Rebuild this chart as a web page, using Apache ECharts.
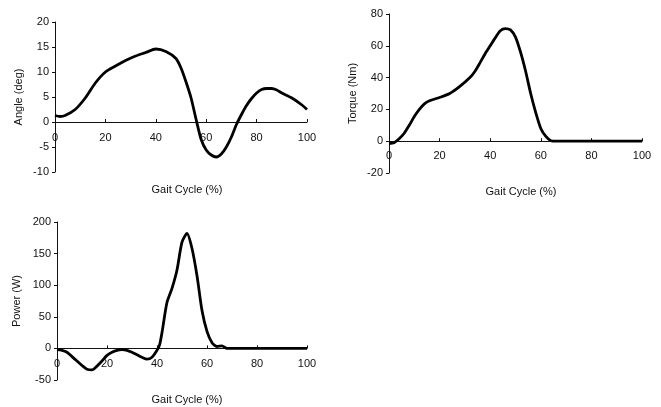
<!DOCTYPE html>
<html>
<head>
<meta charset="utf-8">
<script src="https://cdn.jsdelivr.net/npm/echarts@6/dist/echarts.min.js"></script>
<style>
  html, body { margin: 0; padding: 0; background: #fff; }
  #chart { width: 661px; height: 407px; }
</style>
</head>
<body>
<div id="chart"></div>
<script>
// gait cycle samples (%)
const angleX = [0, 2, 4, 8, 12, 16, 20, 24, 28, 32, 36, 40, 44, 48, 50, 52, 54, 56, 58, 60, 62, 64, 66, 68, 70, 72, 74, 76, 78, 80, 82, 84, 86, 88, 90, 94, 98, 100];
const angleY = [1.3, 1.1, 1.3, 2.5, 4.8, 7.8, 10, 11.2, 12.3, 13.2, 13.9, 14.6, 14.1, 12.7, 10.8, 8, 4.8, 0.5, -3.5, -5.6, -6.6, -7, -6.4, -5, -3, -0.5, 1.5, 3.3, 4.7, 5.8, 6.5, 6.7, 6.7, 6.4, 5.8, 4.8, 3.4, 2.5];

const torqueX = [0, 2, 4, 6, 8, 10, 12, 14, 16, 20, 24, 28, 32, 34, 36, 38, 40, 42, 44, 46, 48, 50, 52, 54, 56, 58, 60, 62, 64, 66, 70, 80, 90, 100];
const torqueY = [-1.5, -1, 1.5, 5, 10, 15.5, 20, 23.5, 25.4, 27.5, 30, 34.5, 40, 44, 49.4, 55, 60, 65, 69.5, 70.8, 70, 65.5, 56, 44, 30, 18, 8, 3, 0.3, 0, 0, 0, 0, 0];

const powerX = [0, 2, 4, 6, 8, 10, 12, 14, 16, 18, 20, 22, 24, 26, 28, 30, 32, 34, 36, 38, 40, 41, 42, 44, 46, 48, 50, 52, 54, 56, 58, 60, 62, 64, 66, 68, 70, 80, 90, 100];
const powerY = [-2, -3, -6, -13, -20, -27, -33, -34, -28, -20, -11, -6, -3, -2, -3, -6, -10, -14, -17, -14, -3, 5, 25, 73, 95, 124, 168, 182, 158, 115, 60, 27, 9, 3, 4, 0, 0, 0, 0, 0];

const xTicks = { min: 0, max: 100, interval: 20 };
const angleTicks = { min: -10, max: 20, interval: 5 };
const torqueTicks = { min: -20, max: 80, interval: 20 };
const powerTicks = { min: -50, max: 200, interval: 50 };

const font = 'Liberation Sans, Arial, sans-serif';
const ink = '#111';

const grids = [
    { left: 55, top: 22, width: 252, height: 150 },
    { left: 389, top: 14, width: 253, height: 159 },
    { left: 57, top: 222, width: 250, height: 158 },
];

function pairs(xs, ys) {
    return xs.map((x, i) => [x, ys[i]]);
}

// lift the x axis (line, ticks and labels) up to y = 0
function xAxis(gridIndex, yTicks, margin) {
    const h = grids[gridIndex].height;
    const lift = h * (0 - yTicks.min) / (yTicks.max - yTicks.min);
    return {
        type: 'value',
        gridIndex,
        ...xTicks,
        offset: -lift,
        axisLine: { onZero: false, lineStyle: { color: ink, width: 1 } },
        axisTick: { inside: true, length: 3, lineStyle: { color: ink } },
        axisLabel: { margin, color: ink, fontSize: 11, fontFamily: font },
        splitLine: { show: false },
    };
}

function yAxis(gridIndex, ticks, name, nameGap) {
    return {
        type: 'value',
        gridIndex,
        ...ticks,
        name,
        nameLocation: 'middle',
        nameGap,
        nameTextStyle: { color: ink, fontSize: 11, fontFamily: font },
        axisLine: { show: true, lineStyle: { color: ink, width: 1 } },
        axisTick: { show: true, length: 3, lineStyle: { color: ink } },
        axisLabel: { margin: 6, color: ink, fontSize: 11, fontFamily: font },
        splitLine: { show: false },
    };
}

function line(idx, xs, ys) {
    return {
        type: 'line',
        xAxisIndex: idx,
        yAxisIndex: idx,
        data: pairs(xs, ys),
        smooth: 0.25,
        showSymbol: false,
        lineStyle: { color: '#000', width: 2.8 },
        animation: false,
    };
}

function caption(left, top) {
    return {
        text: 'Gait Cycle (%)',
        left,
        top,
        textAlign: 'center',
        textStyle: { color: ink, fontSize: 11, fontWeight: 'normal', fontFamily: font },
    };
}

const chart = echarts.init(document.getElementById('chart'));
chart.setOption({
    backgroundColor: '#fff',
    animation: false,
    title: [caption(182, 179), caption(516, 181), caption(182, 389)],
    grid: grids,
    xAxis: [xAxis(0, angleTicks, 10), xAxis(1, torqueTicks, 9), xAxis(2, powerTicks, 10)],
    yAxis: [
        yAxis(0, angleTicks, 'Angle (deg)', 31),
        yAxis(1, torqueTicks, 'Torque (Nm)', 31),
        yAxis(2, powerTicks, 'Power (W)', 35),
    ],
    series: [
        line(0, angleX, angleY),
        line(1, torqueX, torqueY),
        line(2, powerX, powerY),
    ],
});
</script>
</body>
</html>
